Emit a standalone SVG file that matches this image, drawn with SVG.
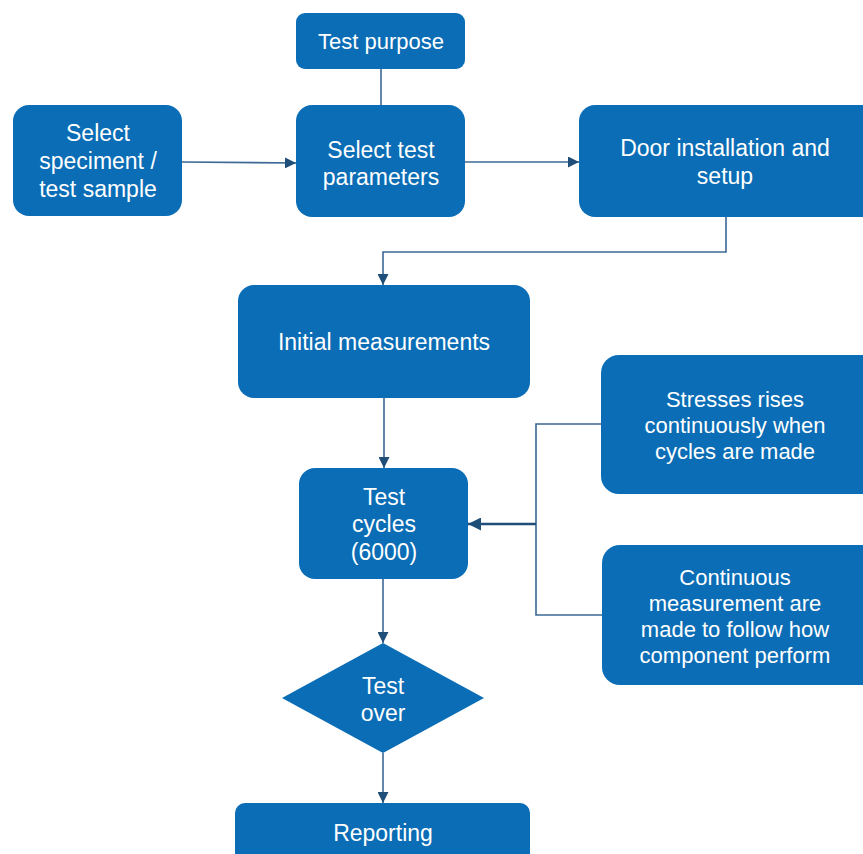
<svg xmlns="http://www.w3.org/2000/svg" width="863" height="854" viewBox="0 0 863 854">
<defs>
<style>
.box{fill:#0a6db5;}
.t{fill:#ffffff;font-family:"Liberation Sans",Arial,sans-serif;font-size:23px;text-anchor:middle;}
.s{font-size:22px;}
.c{fill:none;stroke:#3b6894;stroke-width:1.6;}
</style>
<marker id="ah" viewBox="0 0 10 10" refX="10" refY="5" markerWidth="11" markerHeight="11" markerUnits="userSpaceOnUse" orient="auto">
<path d="M0,0 L10,5 L0,10 Z" fill="#1f4e79"/>
</marker>
<marker id="ah2" viewBox="0 0 10 10" refX="10" refY="5" markerWidth="13" markerHeight="13" markerUnits="userSpaceOnUse" orient="auto">
<path d="M0,0 L10,5 L0,10 Z" fill="#1f4e79"/>
</marker>
</defs>
<rect width="863" height="854" fill="#ffffff"/>
<g id="connectors">
<path class="c" d="M381,69 V105"/>
<path class="c" d="M182,162 L296,163" marker-end="url(#ah)"/>
<path class="c" d="M465,162 H579" marker-end="url(#ah)"/>
<path class="c" d="M726,217 V252 H383 V285" marker-end="url(#ah)"/>
<path class="c" d="M384,398 V468" marker-end="url(#ah)"/>
<path class="c" d="M601,424 H536 V615 H602"/>
<path class="c" d="M536,524 H468" style="stroke:#1f4e79;stroke-width:2.4" marker-end="url(#ah2)"/>
<path class="c" d="M383,579 V643" marker-end="url(#ah)"/>
<path class="c" d="M383,753 V803" marker-end="url(#ah)"/>
</g>
<g id="test-purpose">
<rect class="box" x="296" y="13" width="169" height="56" rx="9"/>
<text class="t s" x="381" y="49">Test purpose</text>
</g>
<g id="select-specimen">
<rect class="box" x="13" y="105" width="169" height="111" rx="16"/>
<text class="t" x="98" y="141">Select</text>
<text class="t" x="98" y="169">speciment /</text>
<text class="t" x="98" y="197">test sample</text>
</g>
<g id="select-parameters">
<rect class="box" x="296" y="105" width="169" height="112" rx="16"/>
<text class="t" x="381" y="158">Select test</text>
<text class="t" x="381" y="185">parameters</text>
</g>
<g id="door-installation">
<rect class="box" x="579" y="105" width="300" height="112" rx="16"/>
<text class="t" x="725" y="156">Door installation and</text>
<text class="t" x="725" y="184">setup</text>
</g>
<g id="initial-measurements">
<rect class="box" x="238" y="285" width="292" height="113" rx="16"/>
<text class="t" x="384" y="350">Initial measurements</text>
</g>
<g id="test-cycles">
<rect class="box" x="299" y="468" width="169" height="111" rx="16"/>
<text class="t" x="384" y="505">Test</text>
<text class="t" x="384" y="532">cycles</text>
<text class="t" x="384" y="560">(6000)</text>
</g>
<g id="stresses">
<rect class="box" x="601" y="355" width="280" height="139" rx="18"/>
<text class="t s" x="735" y="407">Stresses rises</text>
<text class="t s" x="735" y="433">continuously when</text>
<text class="t s" x="735" y="459">cycles are made</text>
</g>
<g id="continuous">
<rect class="box" x="602" y="545" width="280" height="140" rx="18"/>
<text class="t s" x="735" y="585">Continuous</text>
<text class="t s" x="735" y="611">measurement are</text>
<text class="t s" x="735" y="637">made to follow how</text>
<text class="t s" x="735" y="663">component perform</text>
</g>
<g id="test-over">
<polygon class="box" points="383,643 484,698 383,753 282,698"/>
<text class="t" x="383" y="694">Test</text>
<text class="t" x="383" y="721">over</text>
</g>
<g id="reporting">
<rect class="box" x="235" y="803" width="295" height="70" rx="10"/>
<text class="t" x="383" y="841">Reporting</text>
</g>
</svg>
